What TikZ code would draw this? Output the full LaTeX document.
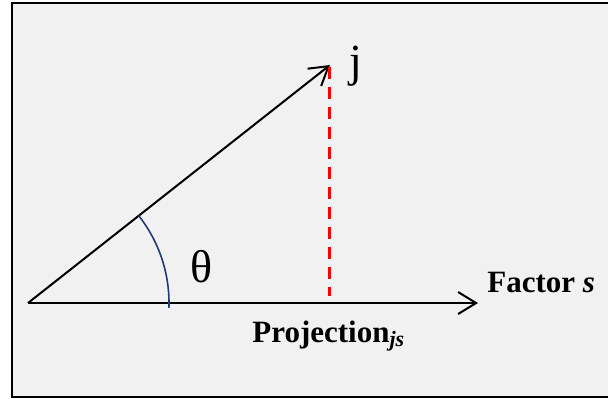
\documentclass[tikz,border=0pt]{standalone}
\usepackage{fontspec}
\setmainfont{Liberation Serif}
\usetikzlibrary{arrows.meta,positioning}
\definecolor{framegray}{RGB}{241,241,241}
\definecolor{arcblue}{RGB}{31,58,120}

\begin{document}
\begin{tikzpicture}[
  x=0.5pt, y=-0.5pt,
  vec/.style={line width=1pt,-{Straight Barb[length=9pt,width=11pt]}},
  drop/.style={red,line width=1.5pt,dash pattern=on 6pt off 4pt},
  lbl/.style={inner sep=0pt,anchor=base west}]
\useasboundingbox (0,0) rectangle (608,398);
\draw[fill=framegray,line width=1.4pt] (12,3) rectangle (615,397);
% vector j and factor axis
\coordinate (o) at (28,303);
\coordinate (j) at (330,65);
\coordinate (s) at (478,303);
\coordinate (top) at (329,67);
\coordinate (foot) at (329,296);
\draw[vec] (o) -- (j);
\draw[vec] (o) -- (s);
\draw[drop] (top) -- (foot);
\draw[arcblue,line width=0.8pt] (o) ++(2:141) arc[start angle=2,end angle=-38.4,radius=141];
% labels
\node[lbl] (jlab) at (349,76) {\fontsize{23}{23}\selectfont j};
\node[lbl] (theta) at (190,282) {\fontsize{23}{23}\selectfont θ};
\node[lbl] (fac) at (487,292) {\fontsize{15.5}{15.5}\selectfont\bfseries Factor \textit{s}};
\node[lbl] (proj) at (252,342) {\fontsize{15.5}{15.5}\selectfont\bfseries Projection\raisebox{-0.35ex}{\fontsize{11}{11}\selectfont\itshape js}};
\end{tikzpicture}
\end{document}
